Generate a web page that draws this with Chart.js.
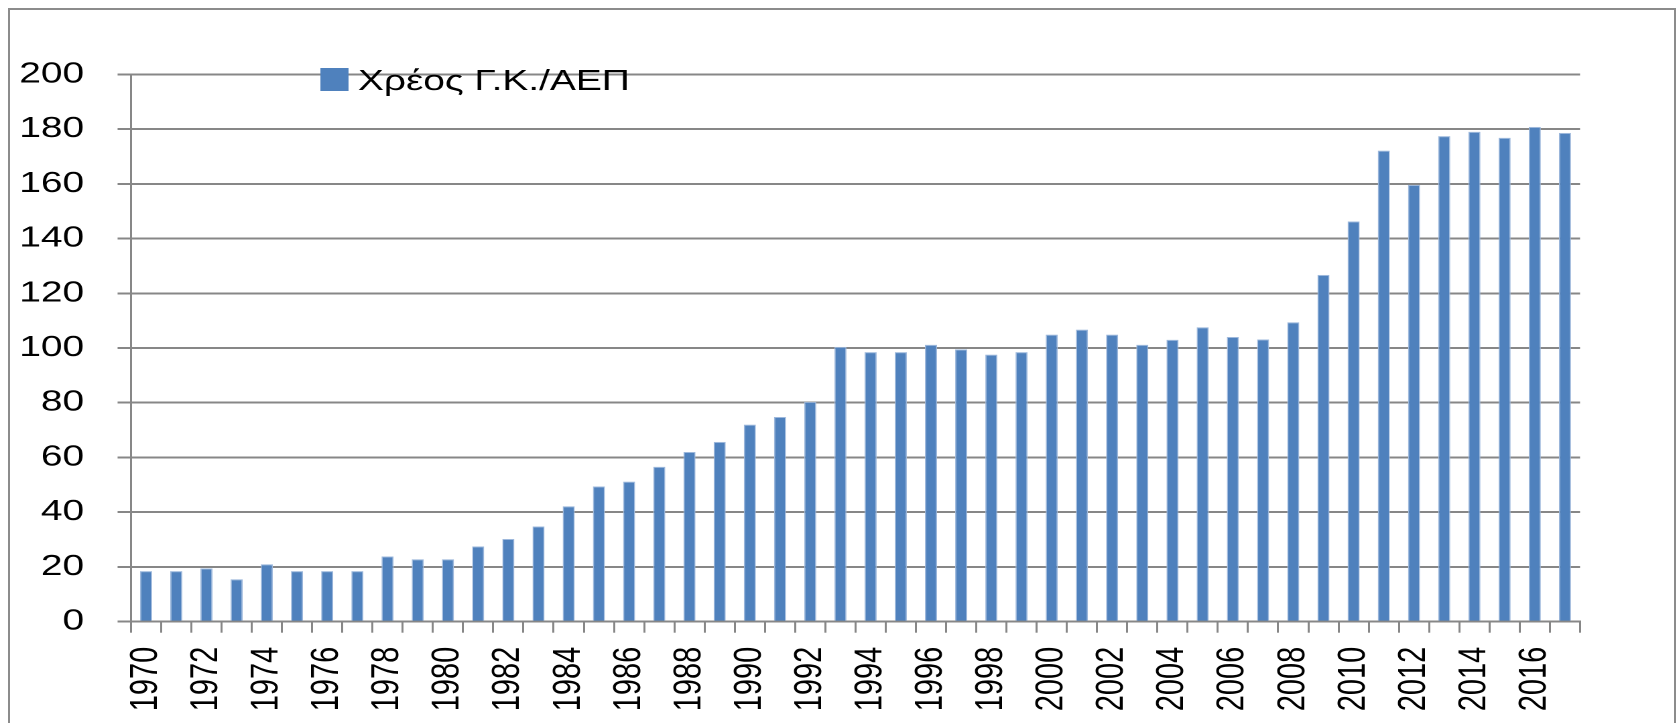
<!DOCTYPE html>
<html>
<head>
<meta charset="utf-8">
<script src="https://cdn.jsdelivr.net/npm/chart.js@4.4.1/dist/chart.umd.min.js"></script>
<style>
  html, body { margin: 0; padding: 0; background: #fff; overflow: hidden; width: 1677px; height: 723px; }
  #frame { position: absolute; left: 8px; top: 8px; width: 1668px; height: 800px; border: 2px solid #8c8c8c; box-sizing: border-box; }
  /* the chart is laid out narrow and widened, so its text keeps the wide Excel look */
  #stage { position: absolute; left: 0; top: 0; width: 1251px; height: 723px; transform: scaleX(1.3405); transform-origin: 0 0; }
</style>
</head>
<body>
<div id="frame"></div>
<div id="stage"><canvas id="debt"></canvas></div>
<script>
// Years on the category axis
const years = [
  1970, 1971, 1972, 1973, 1974, 1975, 1976, 1977, 1978, 1979,
  1980, 1981, 1982, 1983, 1984, 1985, 1986, 1987, 1988, 1989,
  1990, 1991, 1992, 1993, 1994, 1995, 1996, 1997, 1998, 1999,
  2000, 2001, 2002, 2003, 2004, 2005, 2006, 2007, 2008, 2009,
  2010, 2011, 2012, 2013, 2014, 2015, 2016, 2017
];

// General government debt as % of GDP
const debtToGdp = [
  18.5, 18.5, 19.5, 15.5, 21.0, 18.5, 18.5, 18.5, 23.8, 22.8,
  22.8, 27.5, 30.2, 34.8, 42.2, 49.4, 51.2, 56.6, 62.0, 65.7,
  72.0, 74.8, 80.3, 100.4, 98.5, 98.5, 101.2, 99.5, 97.6, 98.5,
  104.9, 106.7, 104.9, 101.2, 103.0, 107.6, 104.0, 103.1, 109.4, 126.7,
  146.2, 172.1, 159.6, 177.4, 179.0, 176.8, 180.8, 178.6
];

const seriesName = 'Χρέος Γ.Κ./ΑΕΠ';
const yMin = 0;
const yMax = 200;
const yStep = 20;

const barBlue = '#4F81BD';
const gridGrey = '#878787';
const fontFamily = '"Liberation Sans", Arial, sans-serif';

// Legend drawn over the top of the plot, as in the spreadsheet original
const overlayLegend = {
  id: 'overlayLegend',
  afterDraw(chart) {
    const ctx = chart.ctx;
    const ds = chart.data.datasets[0];
    ctx.save();
    ctx.fillStyle = ds.backgroundColor;
    ctx.fillRect(239, 68, 21, 23);
    ctx.fillStyle = '#000';
    ctx.font = '29px ' + fontFamily;
    ctx.textBaseline = 'alphabetic';
    ctx.textAlign = 'left';
    ctx.fillText(ds.label, 267, 90);
    ctx.restore();
  }
};

new Chart(document.getElementById('debt'), {
  type: 'bar',
  data: {
    labels: years,
    datasets: [{
      label: seriesName,
      data: debtToGdp,
      backgroundColor: barBlue,
      borderColor: '#9db8dc',
      borderWidth: { top: 1, left: 0.8, right: 0.8, bottom: 0 },
      categoryPercentage: 1,
      barPercentage: 0.4
    }]
  },
  options: {
    responsive: true,
    maintainAspectRatio: false,
    animation: false,
    devicePixelRatio: 2,
    layout: { padding: { top: 74.3, right: 72.3, left: 0, bottom: 0 } },
    plugins: {
      legend: { display: false },
      tooltip: { enabled: false }
    },
    scales: {
      x: {
        grid: {
          display: true,
          drawOnChartArea: false,
          drawTicks: true,
          tickLength: 11,
          offset: true,
          color: gridGrey,
          lineWidth: 1.5
        },
        border: { display: true, color: gridGrey, width: 2 },
        ticks: {
          autoSkip: false,
          minRotation: 90,
          maxRotation: 90,
          padding: 14,
          color: '#000',
          font: { family: fontFamily, size: 29 },
          callback: (value, index) => (index % 2 === 0 ? String(years[index]) : '')
        },
        afterFit(scale) { scale.height = 101.3; }
      },
      y: {
        min: yMin,
        max: yMax,
        ticks: {
          stepSize: yStep,
          padding: 25,
          color: '#000',
          font: { family: fontFamily, size: 29 }
        },
        grid: {
          color: gridGrey,
          lineWidth: 2,
          drawTicks: true,
          tickLength: 10,
          tickColor: gridGrey
        },
        border: { display: true, color: gridGrey, width: 1.5 },
        afterFit(scale) { scale.width = 97.7; }
      }
    }
  },
  plugins: [overlayLegend]
});
</script>
</body>
</html>
